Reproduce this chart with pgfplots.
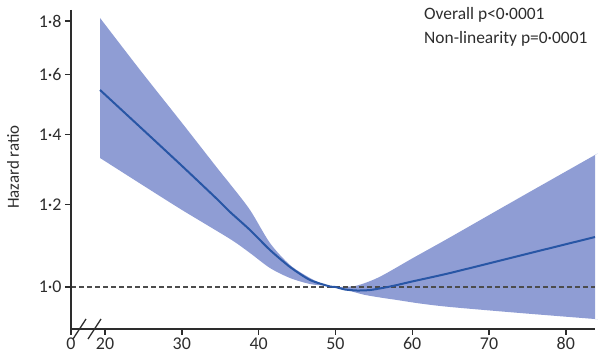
\documentclass[border=0pt]{standalone}
\usepackage{fontspec}
\setmainfont{Carlito}
\usepackage{pgfplots}
\pgfplotsset{compat=1.18}
\definecolor{bandcol}{RGB}{143,157,212}
\definecolor{linecol}{RGB}{40,86,165}
\definecolor{axcol}{RGB}{45,45,45}
\begin{document}
\begin{tikzpicture}
\useasboundingbox (0,0) rectangle (600bp,364bp);
\begin{axis}[
  at={(71bp,35bp)}, anchor=south west,
  width=524bp, height=319bp, scale only axis,
  xmin=15.57, xmax=83.8,
  ymode=log, ymin=0.9114, ymax=1.8445,
  axis lines=left,
  axis line style={-, line width=1.4bp, axcol},
  tick align=outside, major tick length=6bp,
  tick style={line width=1.4bp, axcol},
  minor tick num=0,
  xtick={15.57,20,30,40,50,60,70,80},
  xticklabels={0,20,30,40,50,60,70,80},
  ytick={1,1.2,1.4,1.6,1.8},
  yticklabels={1·0,1·2,1·4,1·6,1·8},
  ticklabel style={font=\fontsize{18}{18}\selectfont, text=axcol},
  xticklabel style={yshift=1bp},
  clip=false,
]
% confidence band (upper edge left to right, lower edge right to left)
\addplot[fill=bandcol, draw=none, smooth, tension=0.5] coordinates {
(19.35,1.8121) (24.56,1.6154) (30.03,1.4368) (34.71,1.2979) (36.28,1.2556)
(38.88,1.1855) (41.48,1.1021) (44.09,1.0498) (46.69,1.0201) (48.65,1.0044)
(50,1.0) (51.25,1.0005) (52.55,1.0022) (53.85,1.0089) (55.16,1.0178)
(56.46,1.0291) (58.41,1.0487) (60.10,1.0662) (64.92,1.1160) (74.04,1.2190)
(83.50,1.3349) (83.80,1.3387) (83.80,1.3360) (83.80,1.30) (83.80,1.15)
(83.80,1.00) (83.80,0.94) (83.80,0.9330) (83.80,0.9317)
(83.50,0.9321) (74.04,0.9442) (64.92,0.9568) (61.02,0.9642) (58.02,0.9717)
(55.81,0.9771) (53.59,0.9836) (51.51,0.9934) (50,1.0) (48.65,1.0030)
(46.69,1.0066) (44.09,1.0201) (41.48,1.0429) (38.88,1.0780) (36.28,1.1120)
(30.03,1.1855) (24.56,1.2570) (19.35,1.3299)
} -- cycle;
% reference line
\addplot[dashed, dash pattern=on 4.5bp off 3.5bp, line width=1.1bp, black!70] coordinates {(15.57,1) (83.8,1)};
% hazard ratio curve
\addplot[linecol, line width=2bp, smooth, tension=0.4] coordinates {
(19.35,1.5456) (24.56,1.4242) (30.03,1.3066) (34.71,1.2120) (36.28,1.1803)
(38.88,1.1342) (41.48,1.0852) (44.09,1.0452) (46.69,1.0156) (49.30,1.0011)
(50,1.0) (51.25,0.9945) (52.81,0.9923) (54.51,0.9934) (56.46,0.9989)
(58.02,1.0044) (59.97,1.0122) (64.92,1.0314) (74.04,1.0719) (83.80,1.1168)
};
\end{axis}
% axis lines drawn explicitly
\draw[axcol, line width=1.4bp] (71bp,354bp) -- (71bp,29bp);
\draw[axcol, line width=1.4bp] (71bp,35bp) -- (595bp,35bp);
% axis break marks
\draw[line width=1.3bp, axcol] (73bp,25bp) -- (86bp,45bp);
\draw[line width=1.3bp, axcol] (88bp,25bp) -- (101bp,45bp);
% y label
\node[rotate=90, font=\fontsize{17}{17}\selectfont, text=axcol] at (13bp,197bp) {Hazard ratio};
% annotations
\node[anchor=base west, inner sep=0pt, font=\fontsize{17.5}{17.5}\selectfont, text=axcol] at (424bp,344bp) {Overall p<0·0001};
\node[anchor=base west, inner sep=0pt, font=\fontsize{17.5}{17.5}\selectfont, text=axcol] at (424bp,320bp) {Non-linearity p=0·0001};
\end{tikzpicture}
\end{document}
